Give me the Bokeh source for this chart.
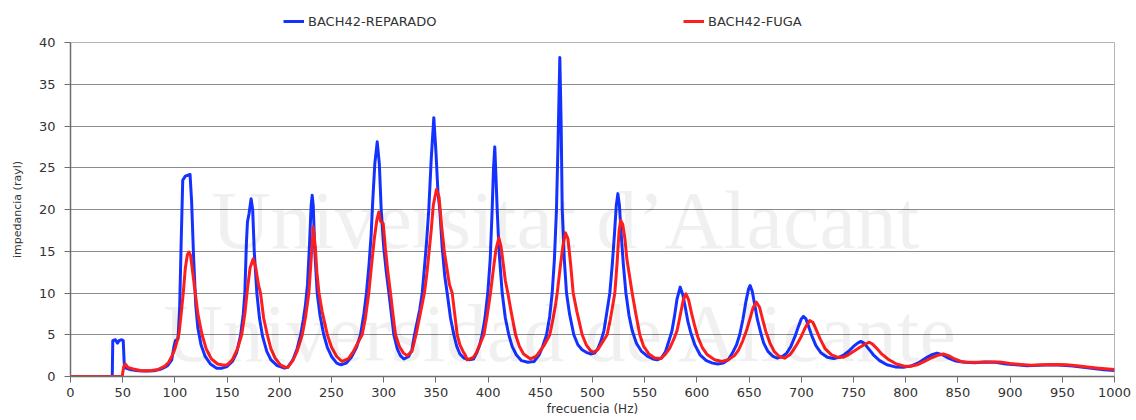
from bokeh.plotting import figure
from bokeh.layouts import column
from bokeh.models import (ColumnDataSource, Range1d, FixedTicker, Legend, LegendItem, Label)
from bokeh.embed import file_html
from bokeh.resources import INLINE

# Impedance spectra (rayl) versus frequency (Hz) for the two instrument states
freq_reparado = [0, 40, 40.5, 43, 44, 45, 46.5, 49, 50.5, 51.5, 53, 58, 65, 72, 80, 86, 90, 93, 97, 99, 100.5, 103,
                 104.5, 106, 107.5, 110, 112.5, 114.5, 116, 118, 120, 122, 125, 129, 134, 140,
                 145, 150, 155, 159, 163, 165.5, 167, 168.5, 169.5, 171, 173, 174.5, 176, 178.5, 181, 184, 188, 192, 198, 205,
                 208, 213, 217, 220.5, 223, 225, 227, 229, 230.5, 231.5, 232.5, 234, 236.3, 239, 242.6, 246, 250, 255, 259,
                 264, 269, 274, 277.8, 281, 283.5, 286, 288, 289.5, 291.5, 293.8, 295.8, 297.6, 300, 302.5, 305, 309.7, 313, 316, 319.3,
                 324, 327, 329.5, 332, 334.5, 336.9, 339, 341, 343.2, 345.5, 348, 350, 352, 353.7, 356, 358.5, 360.8, 364, 367.2, 370, 373, 377, 382,
                 386, 389, 392, 394.3, 397, 399.7, 402, 403.9, 405.2, 406.4, 407.5, 408.7, 410.5, 413.5, 416.5, 419.8, 423, 427, 432, 438,
                 444, 449, 452, 456, 459, 461.4, 463.5, 465.5, 467, 468.7, 470, 471, 473, 475.1, 478, 482.1, 486, 490, 494, 498,
                 502, 505, 508, 511, 513.5, 516.6, 519, 521, 522.8, 524.3, 525.8, 527.5, 529.5, 532, 535, 538, 542, 547, 553, 558, 562,
                 566, 570, 573, 576, 578.5, 581, 584, 586.5, 589, 591.5, 594, 598, 603, 609, 615, 620, 625,
                 630, 634, 638, 641, 644, 647, 649.5, 651, 653, 655.5, 658, 661, 664, 668, 673, 677, 682,
                 686, 690, 694, 697, 700, 702, 704.5, 707, 710, 714, 719, 725, 731, 736,
                 741, 746, 750, 754, 757, 760, 764, 769, 775, 782, 790, 798,
                 806, 813, 819, 825, 830, 835, 841, 848, 856,
                 866, 876, 886, 896, 906, 916, 928, 940, 950, 960, 970, 980, 990, 1000]
imp_reparado = [0, 0, 4.3, 4.4, 4.2, 4.0, 4.3, 4.4, 4.3, 1.5, 1.0, 0.8, 0.7, 0.65, 0.7, 0.85, 1.1, 1.3, 2.0, 3.5, 4.3, 4.5,
                8, 16, 23.5, 24.0, 24.1, 24.2, 21, 14, 8.5, 5.8, 3.8, 2.4, 1.5, 1.0,
                1.0, 1.2, 1.8, 2.8, 5, 7.5, 10, 16, 18.5, 19.5, 21.3, 20, 15, 10, 7, 4.8, 3.0, 2.0, 1.3, 1.0,
                1.1, 2.0, 3.3, 5, 6.8, 8.5, 11, 16, 20.5, 21.7, 20.5, 15, 10, 7.3, 5, 3.5, 2.4, 1.6, 1.4,
                1.6, 2.3, 3.5, 5, 7.5, 10, 13.5, 17, 21, 25.5, 28.1, 25.5, 20, 15.5, 12.5, 10, 5, 3.3, 2.5, 2.1,
                2.4, 3.2, 5, 6.5, 8, 10, 13, 16, 20, 26, 31.0, 27, 22, 20, 15.5, 12, 10, 7, 5, 3.6, 2.7, 2.2, 2.0,
                2.1, 2.8, 3.8, 5, 7, 10, 14, 20, 25, 27.5, 24, 20, 15, 10, 7, 5, 3.6, 2.6, 1.9, 1.7,
                1.8, 2.6, 3.5, 5, 7.2, 10, 14, 20, 28, 38.2, 30, 20, 14, 10, 7.5, 5, 3.8, 3.2, 2.9, 2.7,
                2.8, 3.3, 4.2, 5.5, 7.5, 10, 13.5, 17, 20.5, 21.9, 20.5, 17, 13.5, 10, 7.3, 5.5, 4.0, 3.0, 2.4, 2.1, 2.0,
                2.2, 3.0, 4.2, 5.4, 7.2, 9.3, 10.7, 9.8, 8.2, 6.5, 5.3, 3.8, 2.6, 1.9, 1.6, 1.5, 1.6,
                2.0, 2.8, 3.8, 5.0, 6.8, 9.0, 10.5, 10.9, 10.2, 8.5, 6.8, 5.3, 4.0, 3.0, 2.4, 2.2, 2.4,
                2.8, 3.6, 4.8, 5.9, 6.9, 7.2, 6.9, 6.0, 4.9, 3.7, 2.8, 2.3, 2.15, 2.3,
                2.6, 3.1, 3.6, 4.0, 4.2, 4.0, 3.4, 2.6, 1.9, 1.4, 1.15, 1.1,
                1.3, 1.7, 2.2, 2.6, 2.8, 2.6, 2.2, 1.85, 1.7,
                1.65, 1.75, 1.7, 1.5, 1.4, 1.3, 1.35, 1.4, 1.35, 1.25, 1.1, 0.95, 0.8, 0.72]

freq_fuga = [0, 49.5, 51, 52.5, 55, 60, 68, 76, 84, 90, 94, 97, 100, 102, 104, 106, 108, 110, 112, 113.5, 115, 117, 119.5, 122,
             126, 130, 135, 141, 147,
             150, 155, 160, 164, 167, 169.5, 172, 175, 177.5, 180, 182, 185, 188.5, 192, 196, 201, 206,
             208, 213, 217, 222, 225, 228.3, 230.5, 232.4, 234.5, 236, 238, 241, 246, 250, 255, 260,
             266, 271, 275, 279.4, 282.5, 285.7, 288.5, 291, 293.5, 295.3, 297, 299.5, 301.5, 304, 306.5, 309, 311.3, 315, 319, 322.5,
             327, 331, 335, 339, 341.5, 343.5, 345.5, 347.5, 350.5, 353, 355.5, 358, 360.5, 363, 365.6, 368, 370.4, 373, 376, 378, 380,
             386, 389, 392, 396, 399, 402.3, 405, 407.5, 410.3, 412.5, 414.5, 416.5, 418.9, 422, 426.3, 430, 434, 440.6,
             446, 450, 454, 459.1, 462, 464.5, 466.2, 469, 471.5, 474.1, 476.5, 479, 481.5, 485, 490.1, 494, 498, 501.3,
             505, 509, 514, 517, 519.5, 521.4, 523.5, 525.5, 527, 529, 531, 533, 535.5, 538, 541.5, 545.3, 549, 554, 560, 566,
             570, 574, 578, 581, 584, 587, 589.5, 592, 595, 598, 601, 605, 610, 617, 624, 630,
             636, 640, 644, 648, 651, 654, 657, 660, 663, 666, 670, 674, 679, 684, 689,
             692, 696, 700, 704, 708, 711, 714, 718, 723, 729, 735, 740, 745,
             750, 755, 760, 765, 768, 772, 777, 784, 791, 798, 804,
             811, 818, 824, 830, 836, 841, 847, 853, 860,
             870, 880, 890, 900, 910, 920, 932, 944, 954, 964, 974, 985, 994, 1000]
imp_fuga = [0, 0, 1.2, 1.5, 1.1, 0.9, 0.7, 0.7, 0.85, 1.2, 1.7, 2.4, 3.3, 4.2, 5.2, 7.5, 10, 13, 14.6, 14.9, 14.5, 12.5, 10, 7.5,
            5, 3.3, 2.1, 1.5, 1.35,
            1.4, 2.0, 3.3, 5, 7.5, 10.5, 13, 14.1, 13, 11, 10, 7, 5, 3.3, 2.2, 1.4, 1.1,
            1.1, 1.9, 3.0, 5, 7, 10, 14, 17.9, 15.5, 12.5, 10, 7.8, 5, 3.5, 2.4, 1.8,
            2.1, 3.0, 4.0, 5, 7, 10, 13.5, 16.5, 18.8, 19.7, 18.6, 18.3, 15.5, 12.5, 10, 7.3, 5, 3.6, 2.8, 2.5,
            3, 5, 7.5, 10, 12.5, 15, 17.5, 20.5, 22.4, 21.5, 18, 15, 13, 11, 10, 7.5, 5, 3.8, 3.0, 2.6, 2.0,
            2.3, 2.9, 3.8, 5, 7.2, 10, 12.8, 15.2, 16.6, 15.5, 13.5, 11.5, 10, 7.8, 5, 3.6, 2.7, 2.1,
            2.4, 3.1, 3.8, 5, 6.8, 8.5, 10, 13, 15.5, 17.2, 16.5, 13.5, 10, 7.8, 5, 3.8, 3.1, 2.9,
            3.2, 4.0, 5, 6.8, 8.6, 10, 13.5, 17.5, 18.7, 18.2, 16.5, 14, 12, 10, 7.5, 5, 3.6, 2.7, 2.2, 2.2,
            2.7, 3.4, 4.5, 5.5, 7.3, 9.2, 9.9, 9.2, 7.5, 6.0, 4.7, 3.5, 2.6, 2.0, 1.8, 2.0,
            2.5, 3.2, 4.3, 5.7, 7.0, 8.3, 8.9, 8.3, 6.8, 5.4, 4.0, 3.0, 2.4, 2.2, 2.6,
            3.1, 3.9, 4.8, 5.9, 6.7, 6.5, 5.7, 4.5, 3.3, 2.6, 2.3, 2.3, 2.6,
            3.0, 3.4, 3.8, 4.1, 3.9, 3.4, 2.7, 2.0, 1.5, 1.25, 1.2,
            1.4, 1.8, 2.2, 2.5, 2.7, 2.5, 2.1, 1.8, 1.7,
            1.7, 1.75, 1.75, 1.55, 1.45, 1.35, 1.4, 1.45, 1.4, 1.3, 1.15, 1.0, 0.9, 0.85]

x_ticks = [0, 50, 100, 150, 200, 250, 300, 350, 400, 450, 500, 550, 600, 650, 700, 750, 800, 850, 900, 950, 1000]
y_ticks = [0, 5, 10, 15, 20, 25, 30, 35, 40]

series_names = ["BACH42-REPARADO", "BACH42-FUGA"]
series_colors = ["#1432ff", "#ff1e1e"]
watermark_lines = ["Universitat d\u2019Alacant", "Universidad de Alicante"]

FONT = "DejaVu Sans"
W = 1136
LEG_H = 34

# ---- main chart ----
p = figure(width=W, height=420 - LEG_H, output_backend="svg", toolbar_location=None,
           x_range=Range1d(0, 1000), y_range=Range1d(0, 40),
           min_border_left=70, min_border_right=22, min_border_top=8, min_border_bottom=44,
           background_fill_color="white", border_fill_color="white")
p.outline_line_color = "#b4b4b4"
p.outline_line_width = 1

# faint institutional watermark behind the curves
for txt, wx, wy in zip(watermark_lines, [135, 89], [18.7, 5.2]):
    p.add_layout(Label(x=wx, y=wy, text=txt, text_font="Liberation Serif", text_font_size="82px",
                       text_color="black", text_alpha=0.06, text_baseline="alphabetic", text_align="left"))

src_r = ColumnDataSource(dict(f=freq_reparado, z=imp_reparado))
src_f = ColumnDataSource(dict(f=freq_fuga, z=imp_fuga))
p.line("f", "z", source=src_r, line_color=series_colors[0], line_width=3, line_join="round")
p.line("f", "z", source=src_f, line_color=series_colors[1], line_width=3, line_join="round")

p.xaxis.ticker = FixedTicker(ticks=x_ticks)
p.yaxis.ticker = FixedTicker(ticks=y_ticks)
for ax in (p.xaxis[0], p.yaxis[0]):
    ax.axis_line_color = "#6e6e6e"
    ax.axis_line_width = 1.5
    ax.major_tick_line_color = "#6e6e6e"
    ax.major_tick_line_width = 1
    ax.minor_tick_line_color = None
    ax.major_tick_in = 0
    ax.major_tick_out = 6
    ax.major_label_text_font = FONT
    ax.major_label_text_font_size = "13px"
    ax.major_label_text_color = "#333333"
    ax.axis_label_text_font = FONT
    ax.axis_label_text_font_style = "normal"
    ax.axis_label_text_color = "#333333"

p.xaxis.axis_label = "frecuencia (Hz)"
p.xaxis.axis_label_text_font_size = "12px"
p.xaxis.major_label_standoff = 5
p.xaxis.axis_label_standoff = 2
p.yaxis.axis_label = "impedancia (rayl)"
p.yaxis.axis_label_text_font_size = "11px"
p.yaxis.major_label_standoff = 9
p.yaxis.axis_label_standoff = 12

p.xgrid.visible = False
p.ygrid.grid_line_color = "#8c8c8c"
p.ygrid.grid_line_width = 1

# ---- legend strip above the chart (its frame lines up with the chart's frame) ----
lg = figure(width=W, height=LEG_H, output_backend="svg", toolbar_location=None,
            x_range=Range1d(0, 1), y_range=Range1d(0, 1), min_border=0,
            background_fill_color="white", border_fill_color="white")
lg.axis.visible = False
lg.grid.visible = False
lg.outline_line_color = None
# single-point lines: nothing is drawn in the strip, they only supply the legend swatches
samples = [lg.line(x=[f[0]], y=[z[0]], line_color=c, line_width=3)
           for f, z, c in zip([freq_reparado, freq_fuga], [imp_reparado, imp_fuga], series_colors)]
items = [LegendItem(label=n, renderers=[r]) for n, r in zip(series_names, samples)]
leg = Legend(items=items, location=(213, 3), orientation="horizontal",
             padding=0, margin=0, spacing=0, label_width=375,
             border_line_color=None, background_fill_alpha=0,
             glyph_width=21, glyph_height=20, label_height=20, label_standoff=4,
             label_text_font=FONT, label_text_font_size="13px", label_text_color="#333333")
lg.add_layout(leg)

layout = column(lg, p, spacing=0)
open("out.html", "w").write(file_html(layout, INLINE))
